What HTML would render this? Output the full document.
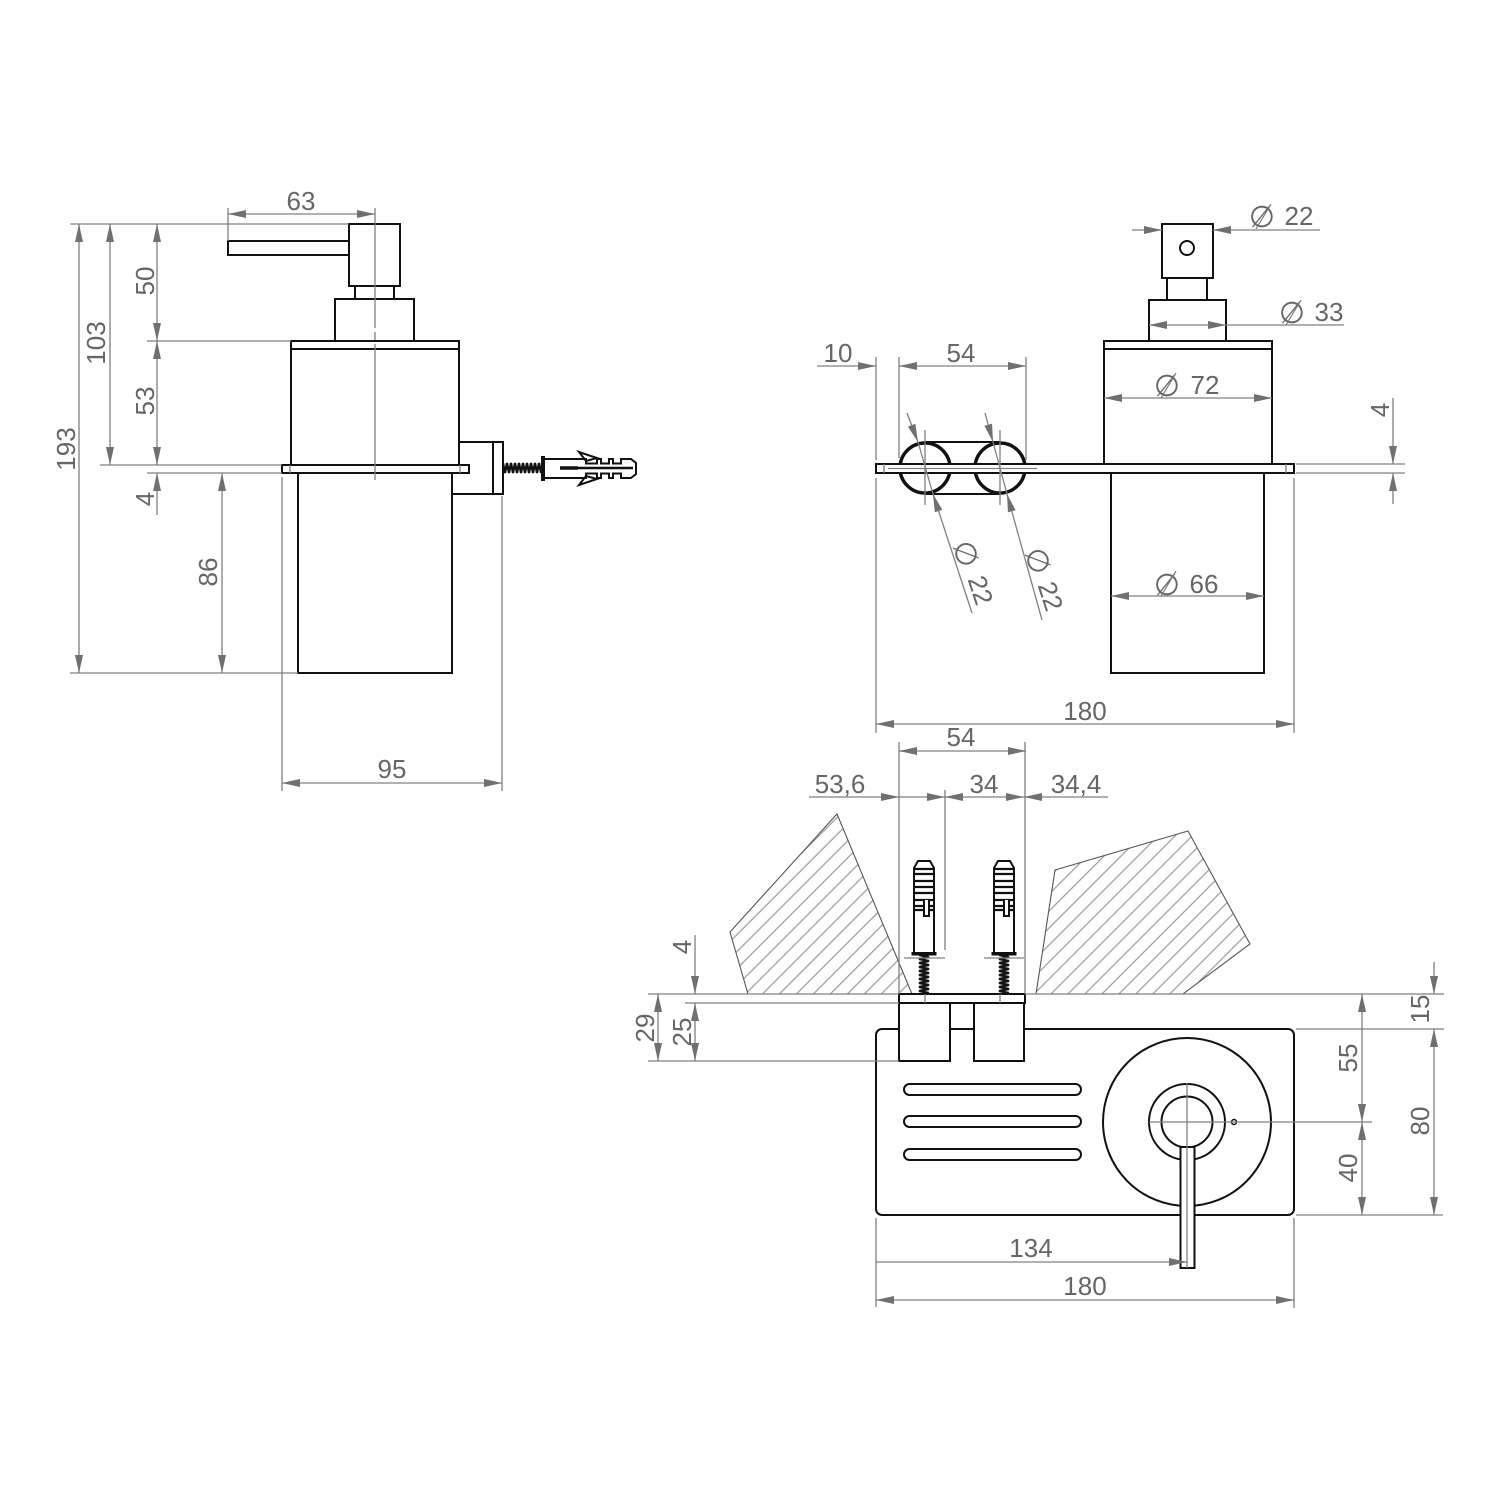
<!DOCTYPE html>
<html><head><meta charset="utf-8"><style>
html,body{margin:0;padding:0;background:#fff}
svg{display:block}
text{font-family:"Liberation Sans",sans-serif;font-size:26px;fill:#666;text-anchor:middle}
.p{font-family:"DejaVu Sans",sans-serif;font-size:30px}
.o{fill:none;stroke:#111;stroke-width:2}
.w{fill:#fff;stroke:#111;stroke-width:2}
.g{stroke:#808080;stroke-width:1.3;fill:none}
.s{stroke:#777;stroke-width:1.2;fill:none}
.a{stroke:#808080;stroke-width:1.3;fill:none;marker-end:url(#m);marker-start:url(#m)}
.e{stroke:#808080;stroke-width:1.3;fill:none;marker-end:url(#m)}
.h{stroke:#555;stroke-width:1.1;fill:url(#hat)}
</style></head><body>
<svg width="1500" height="1500" viewBox="0 0 1500 1500" xmlns="http://www.w3.org/2000/svg">
<defs>
<marker id="m" markerUnits="userSpaceOnUse" markerWidth="18" markerHeight="9" viewBox="0 0 18 9" refX="18" refY="4.500" orient="auto-start-reverse"><path d="M0,0.5 L18,4.500 L0,8.500 Z" fill="#707070"/></marker>
<pattern id="hat" width="12" height="12" patternUnits="userSpaceOnUse" patternTransform="rotate(45)"><line x1="6" y1="0" x2="6" y2="12" stroke="#999" stroke-width="1.2"/></pattern>
<g id="anc">
<path class="o" d="M-10,-1 L-10,-85 L-6,-92 L6,-92 L10,-85 L10,-1"/>
<path d="M-10,-84 H10 M-10,-79 H10 M-10,-72 H10 M-10,-66 H10 M-10,-60 H10 M-10,-53 H10 M-10,-47 H10 M-10,-43 H10" stroke="#111" stroke-width="2.2"/>
<path class="w" d="M0,-53 V-37 H5 V-53"/>
<rect x="-12.500" y="-1" width="25" height="3.500" fill="#111"/>
<path fill="none" stroke="#111" stroke-width="2.300" d="M-5,2 L5,4 L-5,6 L5,8 L-5,10 L5,12 L-5,14 L5,16 L-5,18 L5,20 L-5,22 L5,24 L-5,26 L5,28 L-5,30 L5,32 L-5,34 L5,36 L-5,38 L5,40"/>
</g>
</defs>

<!-- LEFT VIEW object -->
<rect class="o" x="228" y="241" width="122" height="14"/>
<rect class="w" x="349" y="224" width="51" height="62"/>
<rect class="o" x="355" y="286" width="39" height="14"/>
<rect class="w" x="335" y="299" width="79" height="42"/>
<rect class="w" x="291" y="341" width="168" height="124"/>
<line class="o" x1="291" y1="349" x2="459" y2="349"/>
<rect class="w" x="298" y="473" width="154" height="200"/>
<path class="o" d="M459,442 H503 V494 H452 M493,442 V494"/>
<rect class="w" x="282" y="465" width="187" height="8"/>
<path class="g" d="M290,465 V473 M460,465 V473"/>
<line class="g" x1="375" y1="208" x2="375" y2="480" stroke-dasharray="120 4 8 4 150"/>
<!-- horizontal anchor -->
<path fill="none" stroke="#111" stroke-width="2.300" d="M503,463 L505,473 L507,463 L509,473 L511,463 L513,473 L515,463 L517,473 L519,463 L521,473 L523,463 L525,473 L527,463 L529,473 L531,463 L533,473 L535,463 L537,473 L539,463 L541,473"/>
<rect x="541" y="456" width="4" height="25" fill="#111"/>
<path class="o" d="M545,459 H586 V463.500 H597 V459 H601 V463.500 H609 V459 H613 V463.500 H621 V459 H631 L636,463 V474 L631,478 H621 V473.500 H613 V478 H609 V473.500 H601 V478 H597 V473.500 H586 V478 H545"/>
<line x1="560" y1="468" x2="578" y2="468" stroke="#111" stroke-width="3.500"/>
<line x1="578" y1="468" x2="633" y2="468" stroke="#111" stroke-width="2.400"/>
<path class="o" d="M579,452 L597,458 L586,461 Z M579,485 L597,479 L586,476 Z"/>

<!-- LEFT dims -->
<path class="g" d="M70,224 H349 M100,465 H282 M147,341 H291 M147,473 H282 M70,673 H298 M228,208 V241 M282,477 V791 M502,496 V791"/>
<line class="a" x1="228" y1="214" x2="375" y2="214"/>
<line class="a" x1="79" y1="224" x2="79" y2="673"/>
<line class="a" x1="110" y1="224" x2="110" y2="465"/>
<line class="a" x1="157" y1="224" x2="157" y2="341"/>
<line class="a" x1="157" y1="341" x2="157" y2="465"/>
<line class="e" x1="157" y1="515" x2="157" y2="473"/>
<line class="a" x1="222" y1="473" x2="222" y2="673"/>
<line class="a" x1="282" y1="783" x2="502" y2="783"/>
<text x="301" y="210">63</text>
<text x="392" y="778">95</text>
<text transform="translate(75 449) rotate(-90)">193</text>
<text transform="translate(105 343) rotate(-90)">103</text>
<text transform="translate(154 281) rotate(-90)">50</text>
<text transform="translate(154 401) rotate(-90)">53</text>
<text transform="translate(154 499) rotate(-90)">4</text>
<text transform="translate(217 572) rotate(-90)">86</text>

<!-- MIDDLE object -->
<rect class="w" x="1162" y="224" width="51" height="54"/>
<circle class="o" cx="1187" cy="248" r="7"/>
<rect class="o" x="1167" y="278" width="40" height="22"/>
<rect class="w" x="1149" y="300" width="77" height="41"/>
<rect class="w" x="1104" y="341" width="168" height="124"/>
<line class="o" x1="1104" y1="349" x2="1272" y2="349"/>
<rect class="w" x="1111" y="473" width="153" height="200"/>
<path class="o" d="M925,442 H1000 M925,494 H1000"/>
<circle cx="925" cy="468" r="25" fill="#fff" stroke="#111" stroke-width="3.500"/>
<circle cx="1000" cy="468" r="25" fill="#fff" stroke="#111" stroke-width="3.500"/>
<rect class="w" x="876" y="464" width="418" height="9"/>
<path class="g" d="M888,468.500 H1037 M884,464 V473 M1286,464 V473"/>
<path class="g" d="M925,430 V505 M1000,430 V505"/>

<!-- MIDDLE dims -->
<path class="g" d="M876,357 V460 M899,357 V458 M1026,357 V460 M876,478 V733 M1294,478 V733 M1296,464 H1405 M1296,473 H1405"/>
<line class="e" x1="817" y1="366" x2="876" y2="366"/>
<line class="a" x1="899" y1="366" x2="1026" y2="366"/>
<line class="a" x1="876" y1="724" x2="1294" y2="724"/>
<line class="e" x1="1132" y1="230" x2="1162" y2="230"/>
<line class="e" x1="1320" y1="230" x2="1213" y2="230"/>
<line class="g" x1="1226" y1="325" x2="1344" y2="325"/>
<line class="a" x1="1149" y1="325" x2="1226" y2="325"/>
<line class="a" x1="1104" y1="398" x2="1272" y2="398"/>
<line class="a" x1="1111" y1="596" x2="1264" y2="596"/>
<line class="e" x1="1393" y1="398" x2="1393" y2="464"/>
<line class="e" x1="1393" y1="504" x2="1393" y2="473"/>
<line class="e" x1="907" y1="413" x2="918" y2="442"/>
<line class="e" x1="972" y1="613" x2="933" y2="494"/>
<line class="g" x1="918" y1="442" x2="933" y2="494"/>
<line class="e" x1="985" y1="413" x2="993" y2="442"/>
<line class="e" x1="1042" y1="620" x2="1007" y2="494"/>
<line class="g" x1="993" y1="442" x2="1007" y2="494"/>
<text x="838" y="362">10</text>
<text x="961" y="362">54</text>
<text x="1085" y="720">180</text>
<text class="p" x="1262" y="227">∅</text><text x="1299" y="225">22</text>
<text class="p" x="1292" y="323">∅</text><text x="1329" y="321">33</text>
<text class="p" x="1167" y="396">∅</text><text x="1205" y="394">72</text>
<text class="p" x="1167" y="595">∅</text><text x="1204" y="593">66</text>
<path class="s" d="M1256,229 L1271,204 M1286,325 L1301,300 M1161,398 L1176,373 M1161,596 L1176,571"/>
<text transform="translate(1389 410) rotate(-90)">4</text>
<g transform="translate(956 557) rotate(72)"><text class="p" x="0" y="0">∅</text></g>
<text transform="translate(972 593) rotate(72)">22</text>
<g transform="translate(1028 564) rotate(72)"><text class="p" x="0" y="0">∅</text></g>
<text transform="translate(1042 599) rotate(72)">22</text>

<!-- BOTTOM object -->
<polygon class="h" points="837,814 730,932 748,994 912,994"/>
<polygon class="h" points="1055,870 1188,831 1250,944 1183,994 1036,994"/>
<rect class="o" x="876" y="1029" width="418" height="186" rx="6"/>
<rect x="904" y="1084" width="177" height="11" rx="5.500" class="o"/>
<rect x="904" y="1116" width="177" height="11" rx="5.500" class="o"/>
<rect x="904" y="1149" width="177" height="11" rx="5.500" class="o"/>
<circle class="o" cx="1187" cy="1122" r="84"/>
<circle class="o" cx="1187" cy="1122" r="38"/>
<circle class="o" cx="1187" cy="1122" r="25.500"/>
<circle cx="1234" cy="1122" r="2.500" fill="#fff" stroke="#111" stroke-width="1.500"/>
<rect class="w" x="1180.500" y="1147" width="14" height="121"/>
<path class="g" d="M1187,1083 V1268 M1149,1122 H1372"/>
<rect class="w" x="899" y="1003" width="51" height="58"/>
<rect class="w" x="974" y="1003" width="50" height="58"/>
<rect class="w" x="899" y="994" width="126" height="9"/>
<path class="g" d="M925,994 V1003 M1000,994 V1003"/>
<use href="#anc" x="924" y="953"/>
<use href="#anc" x="1004" y="953"/>

<!-- BOTTOM dims -->
<path class="g" d="M648,994 H899 M1025,994 H1444 M685,1003 H899 M648,1061 H899 M1296,1029 H1444 M1296,1215 H1443 M876,1218 V1307 M1294,1218 V1308 M899,742 V994 M1025,742 V994 M945,790 V950 M904,958 H945 M984,958 H1024"/>
<line class="a" x1="899" y1="751" x2="1026" y2="751"/>
<line class="e" x1="809" y1="797" x2="899" y2="797"/>
<line class="e" x1="899" y1="797" x2="945" y2="797"/>
<line class="a" x1="945" y1="797" x2="1024" y2="797"/>
<line class="e" x1="1108" y1="797" x2="1024" y2="797"/>
<line class="a" x1="658" y1="994" x2="658" y2="1061"/>
<line class="a" x1="695" y1="1003" x2="695" y2="1061"/>
<line class="e" x1="695" y1="935" x2="695" y2="994"/>
<line class="a" x1="1362" y1="994" x2="1362" y2="1122"/>
<line class="a" x1="1362" y1="1122" x2="1362" y2="1215"/>
<line class="e" x1="1434" y1="962" x2="1434" y2="994"/>
<line class="a" x1="1434" y1="1029" x2="1434" y2="1215"/>
<line class="e" x1="876" y1="1262" x2="1187" y2="1262"/>
<line class="a" x1="876" y1="1300" x2="1294" y2="1300"/>
<text x="961" y="746">54</text>
<text x="840" y="793">53,6</text>
<text x="984" y="793">34</text>
<text x="1076" y="793">34,4</text>
<text x="1031" y="1257">134</text>
<text x="1085" y="1295">180</text>
<text transform="translate(654 1028) rotate(-90)">29</text>
<text transform="translate(691 1032) rotate(-90)">25</text>
<text transform="translate(691 947) rotate(-90)">4</text>
<text transform="translate(1357 1058) rotate(-90)">55</text>
<text transform="translate(1357 1168) rotate(-90)">40</text>
<text transform="translate(1429 1009) rotate(-90)">15</text>
<text transform="translate(1429 1121) rotate(-90)">80</text>
</svg>
</body></html>
